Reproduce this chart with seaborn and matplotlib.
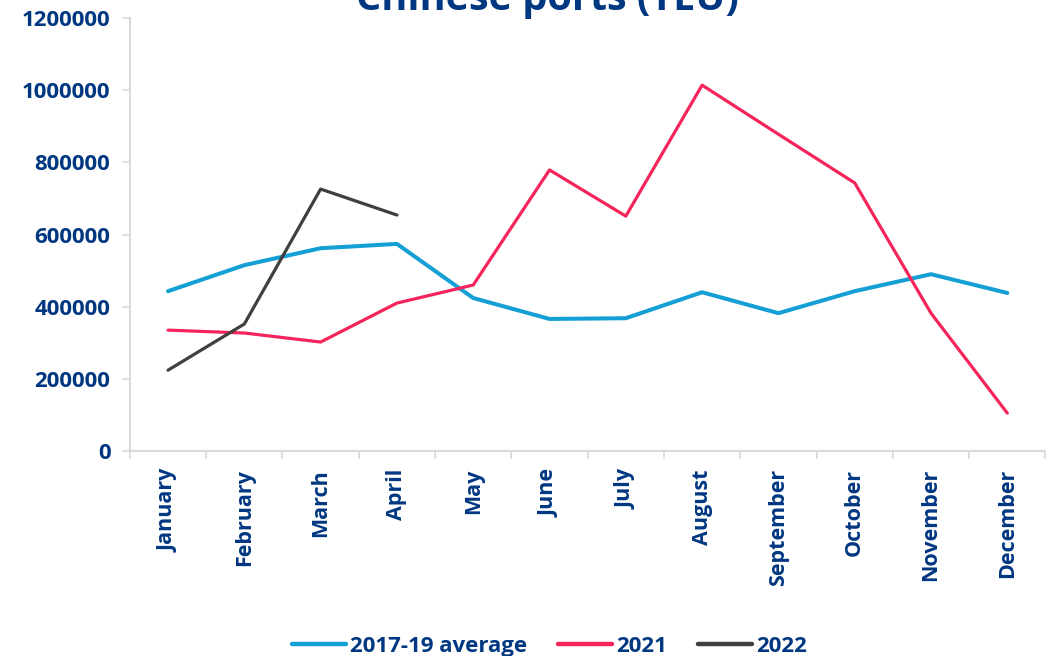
import matplotlib
matplotlib.use("Agg")
import matplotlib.pyplot as plt
import seaborn as sns
import pandas as pd
import numpy as np
from matplotlib.ticker import FixedLocator

months = ["January", "February", "March", "April", "May", "June", "July",
          "August", "September", "October", "November", "December"]
avg_2017_19 = [443000, 515000, 562000, 574000, 424000, 366000, 368000,
               440000, 382000, 443000, 490000, 438000]
y2021 = [335000, 327000, 302000, 410000, 460000, 779000, 651000,
         1014000, 878000, 743000, 382000, 105000]
y2022 = [224000, 352000, 726000, 654000]
series_names = ["2017-19 average", "2021", "2022"]
yticks = [0, 200000, 400000, 600000, 800000, 1000000, 1200000]
title = "Chinese ports (TEU)"

rows = []
for name, vals in zip(series_names, [avg_2017_19, y2021, y2022]):
    for i, v in enumerate(vals):
        rows.append({"month": i, "value": v, "series": name})
df = pd.DataFrame(rows)

sns.set_theme(style="white")
plt.rcParams['font.family'] = ['Open Sans', 'DejaVu Sans']
navy = "#003781"
palette = {"2017-19 average": "#14a0d5", "2021": "#f5245a", "2022": "#3f3f3f"}

fig = plt.figure(figsize=(10.56, 6.56), dpi=100)
ax = fig.add_axes([0.123, 0.3125, 0.867, 0.66])
sns.lineplot(data=df, x="month", y="value", hue="series", palette=palette,
             linewidth=2.3, ax=ax, legend=True, sort=False)
for ln in ax.get_lines():
    if ln.get_color() == "#14a0d5":
        ln.set_linewidth(2.9)

ax.set_xlim(-0.5, 11.5)
ax.set_ylim(0, 1200000)
ax.set_yticks(yticks)
ax.set_yticklabels([str(t) for t in yticks], color=navy, fontweight="bold", fontsize=16)
ax.set_xticks(range(12))
ax.set_xticklabels(months, rotation=90, color=navy, fontweight="bold", fontsize=15.5)
ax.xaxis.set_minor_locator(FixedLocator(np.arange(-0.5, 12, 1)))
ax.tick_params(axis="x", which="major", length=0, pad=13)
ax.tick_params(axis="x", which="minor", length=6, color="#d9d9d9", width=1.2, direction="out", bottom=True)
ax.tick_params(axis="y", which="major", length=6, color="#d9d9d9", width=1.2, direction="out", left=True, pad=8)
ax.set_xlabel("")
ax.set_ylabel("")
for s in ["top", "right"]:
    ax.spines[s].set_visible(False)
for s in ["left", "bottom"]:
    ax.spines[s].set_color("#d9d9d9")
    ax.spines[s].set_linewidth(1.5)

handles, labels = ax.get_legend_handles_labels()
for h in handles:
    h.set_linewidth(3.2)
ax.get_legend().remove()
leg = fig.legend(handles, labels, loc="lower center", bbox_to_anchor=(0.52, -0.032), ncol=3,
                 frameon=False, handlelength=2.43, handletextpad=0.18, columnspacing=1.4,
                 prop={"weight": "bold", "size": 16})
for t in leg.get_texts():
    t.set_color(navy)

fig.text(0.518, 1 - 10 / 656, title, ha="center", va="baseline", color=navy,
         fontweight="bold", fontsize=28.5)

fig.savefig("out.png", dpi=100)
